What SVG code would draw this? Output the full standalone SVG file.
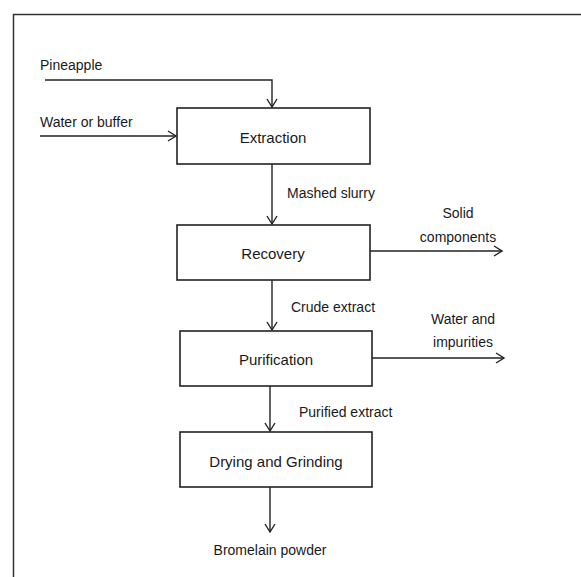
<svg xmlns="http://www.w3.org/2000/svg" width="581" height="577" viewBox="0 0 581 577">
<style>
.box{fill:#fff;stroke:#222;stroke-width:1.6}
.ln{fill:none;stroke:#222;stroke-width:1.4}
.t{font-family:"Liberation Sans",Arial,sans-serif;fill:#1a1a1a}
.b{font-size:15px;text-anchor:middle}
.s{font-size:14px}
.c{text-anchor:middle}
</style>
<defs>
<marker id="ah" viewBox="-10 -6 12 12" refX="0" refY="0" markerWidth="12" markerHeight="12" markerUnits="userSpaceOnUse" orient="auto">
<path d="M-8,-5 L0,0 L-8,5" fill="none" stroke="#222" stroke-width="1.4"/>
</marker>
</defs>
<rect width="581" height="577" fill="#fff"/>
<path d="M13.5,577 L13.5,14.5 L581,14.5" fill="none" stroke="#333" stroke-width="1.5"/>
<g id="connectors">
<path class="ln" d="M45,80 L272,80 L272,107" marker-end="url(#ah)"/>
<path class="ln" d="M40,136 L176,136" marker-end="url(#ah)"/>
<path class="ln" d="M272,164 L272,224" marker-end="url(#ah)"/>
<path class="ln" d="M272,280 L272,330" marker-end="url(#ah)"/>
<path class="ln" d="M270,386 L270,431" marker-end="url(#ah)"/>
<path class="ln" d="M270,487 L270,532" marker-end="url(#ah)"/>
<path class="ln" d="M370,251 L502,251" marker-end="url(#ah)"/>
<path class="ln" d="M372,358 L504,358" marker-end="url(#ah)"/>
</g>
<g id="labels">
<text class="t s" x="40" y="70">Pineapple</text>
<text class="t s" x="40" y="127">Water or buffer</text>
<text class="t s" x="287" y="198">Mashed slurry</text>
<text class="t s c" x="458" y="218">Solid</text>
<text class="t s c" x="458" y="242">components</text>
<text class="t s" x="291" y="312">Crude extract</text>
<text class="t s c" x="463" y="324">Water and</text>
<text class="t s c" x="463" y="347">impurities</text>
<text class="t s" x="299" y="417">Purified extract</text>
<text class="t s c" x="270" y="555">Bromelain powder</text>
</g>
<g id="extraction">
<rect class="box" x="177" y="108" width="193" height="56"/>
<text class="t b" x="273" y="143">Extraction</text>
</g>
<g id="recovery">
<rect class="box" x="177" y="225" width="193" height="55"/>
<text class="t b" x="273" y="259">Recovery</text>
</g>
<g id="purification">
<rect class="box" x="180" y="331" width="192" height="55"/>
<text class="t b" x="276" y="365">Purification</text>
</g>
<g id="drying">
<rect class="box" x="180" y="432" width="192" height="55"/>
<text class="t b" x="276" y="467">Drying and Grinding</text>
</g>
</svg>
